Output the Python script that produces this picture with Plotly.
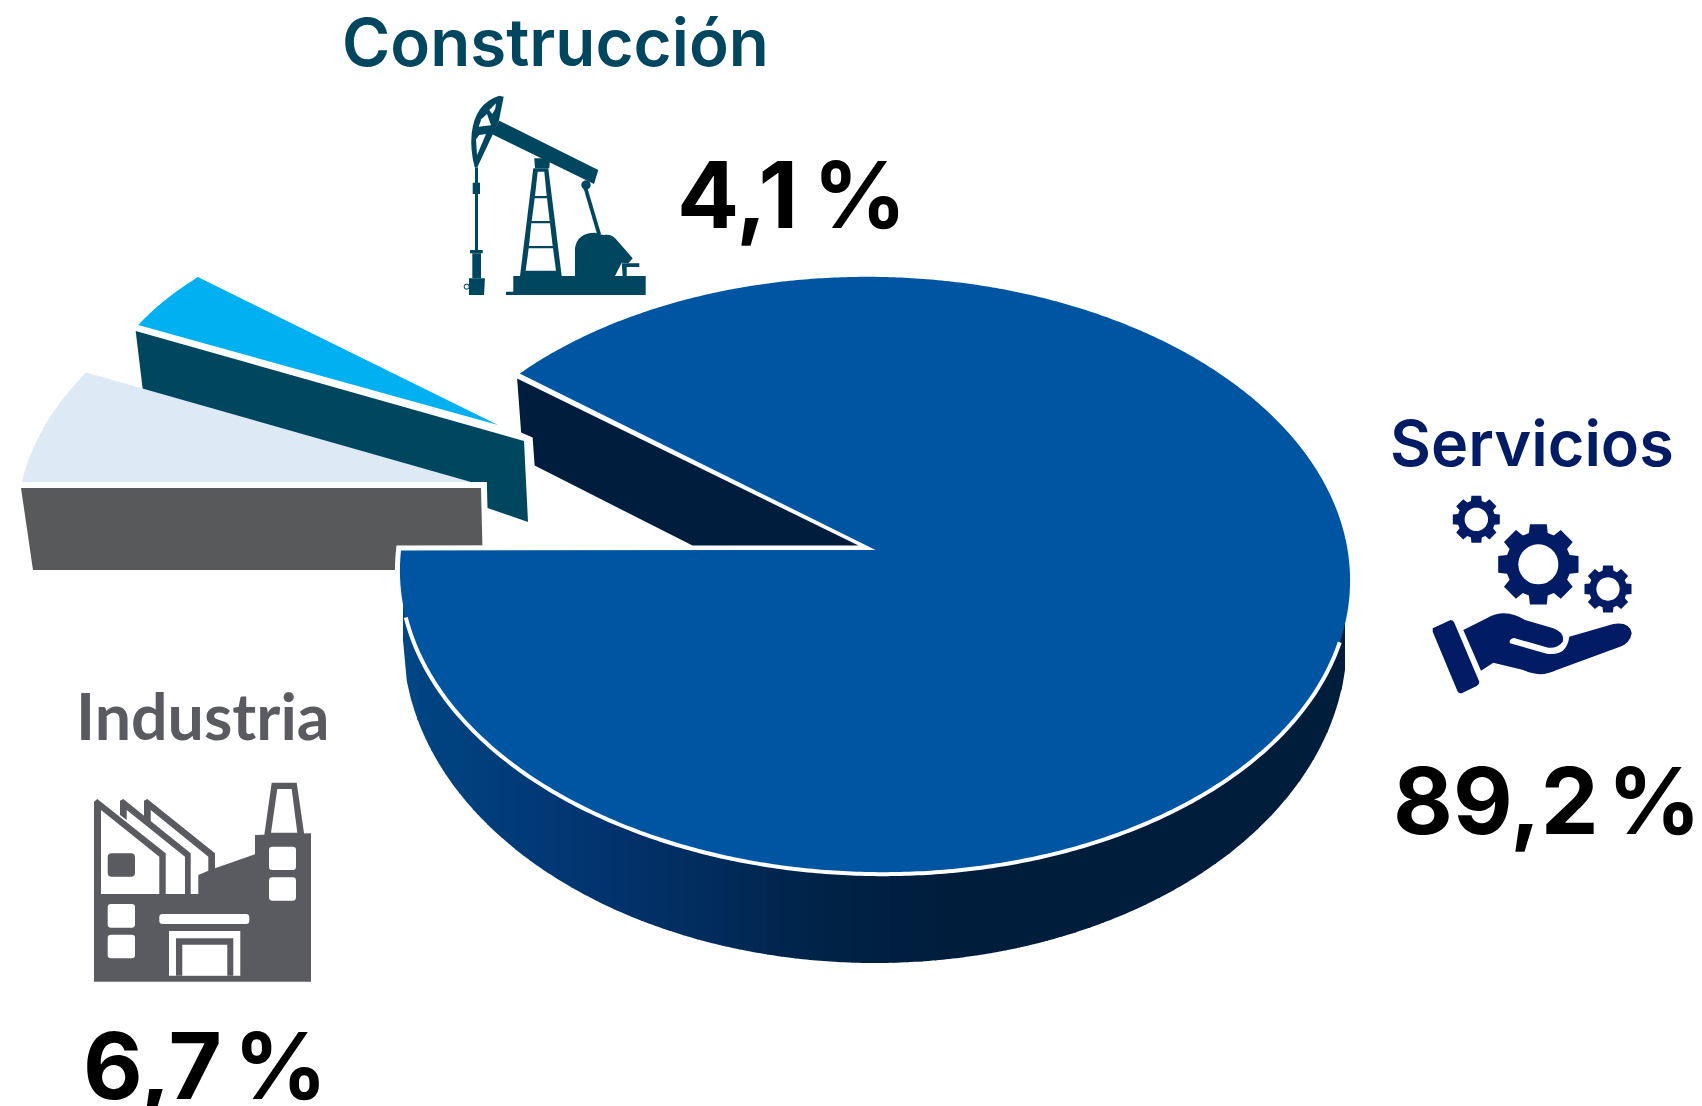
import math
import numpy as np
import plotly.graph_objects as go

categories = ["Servicios", "Industria", "Construcción"]
values = [89.2, 6.7, 4.1]
top_colors = ["#0055A2", "#DDE9F5", "#00B0F0"]
side_colors = ["#001D3D", "#58595B", "#00465F"]
text_colors = ["#011B64", "#595B60", "#00465F"]

W, H = 1702, 1106
fig = go.Figure()

SWEEP = [v / 100 * 360 for v in values]
CUT_START = 272.9                      # clockwise from 12 o'clock
FORESHORTEN = 0.97


def sector(center, m, a0, a1, n=90):
    """Map clock angles to the picture with a 2x2 oblique projection."""
    t = np.radians(np.linspace(a0, a1, n))
    s, c = np.sin(t), np.cos(t)
    return center[0] + m[0] * s + m[1] * c, center[1] + m[2] * s + m[3] * c


def poly(x, y, fill, line=None, lw=0):
    x, y = list(x), list(y)
    fig.add_trace(go.Scatter(x=x + x[:1], y=y + y[:1], mode="lines", fill="toself",
                             fillcolor=fill, hoverinfo="skip", showlegend=False,
                             line=dict(color=line or fill, width=lw if line else 0, simplify=False)))


# ---------- Construcción (exploded) ----------
con_c = (498, 425)
con_m = (405, 25, 9.8, -224)
con_a0 = 294.0
con_x, con_y = sector(con_c, con_m, con_a0, con_a0 + SWEEP[2], 30)
Ax, Ay = con_x[0], con_y[0]
poly([Ax - 2.5, Ax + 4.5, con_c[0] + 30, con_c[0] + 26],
     [Ay + 6, Ay + 64, con_c[1] + 97, con_c[1] + 16], side_colors[2])
poly(list(con_x) + [con_c[0]], list(con_y) + [con_c[1]], top_colors[2])

# ---------- Industria (exploded) ----------
ind_c = (471, 482)
ind_m = (449, 61, 0, -268)
ind_a0 = 270.0
ind_x, ind_y = sector(ind_c, ind_m, ind_a0, ind_a0 + SWEEP[1], 30)
Cx, Cy = ind_x[0], ind_y[0]
sx = [Cx - 1, ind_c[0] + 10, ind_c[0] + 12, Cx + 11]
sy = [Cy + 6, ind_c[1] + 6, ind_c[1] + 88, Cy + 88]
poly(sx, sy, "#FFFFFF", "#FFFFFF", 12)
poly(sx, sy, side_colors[1])
poly(list(ind_x) + [ind_c[0]], list(ind_y) + [ind_c[1]], top_colors[1])

# ---------- Servicios ----------
cx, cy = 875.0, 575.5
apex = (875.5, 550)
main_m = (475.0, 8.0, 10.0, -298.5)
cut = (360 - SWEEP[0]) * FORESHORTEN
mx, my = sector((cx, cy), main_m, CUT_START + cut, CUT_START + 360, 720)

# white halo separating the main body from what sits behind it
poly(list(mx) + [apex[0]], list(my) + [apex[1]], "#FFFFFF", "#FFFFFF", 10)

# inner cut face
Ux, Uy = mx[0], my[0]
poly([Ux - 2.5, Ux + 1.5, Ux + 13, Ux + 15, apex[0] - 183, apex[0] - 17],
     [Uy + 5, Uy + 59, Uy + 64, Uy + 92, apex[1] - 4.5, apex[1] - 4.5], side_colors[0])

# outer wall, shaded across its width
stops_x = [402, 444, 603, 826, 954, 1346]
stops_rgb = [(0, 70, 134), (0, 66, 128), (3, 52, 111), (0, 35, 71), (0, 29, 59), (0, 29, 59)]
bcx, bcy, brx, bry = 875.0, 640.0, 472.0, 323.0
edges = np.append(np.arange(403, 1345, 14.0), 1345.0)
arc_x, arc_y = sector((cx, cy), main_m, 270, 90, 400)
arc_x = np.maximum.accumulate(arc_x)


def top_y(x):
    return np.interp(x, arc_x, arc_y)


def bot_y(x):
    return bcy + bry * np.sqrt(np.clip(1 - ((x - bcx) / brx) ** 2, 0, 1))


for i in range(len(edges) - 1):
    xa, xb = edges[i], min(edges[i + 1] + 1.2, 1345.0)
    xs = np.linspace(xa, xb, 5)
    mid = (xa + edges[i + 1]) / 2
    rgb = [np.interp(mid, stops_x, [c[k] for c in stops_rgb]) for k in range(3)]
    col = "rgb(%d,%d,%d)" % tuple(rgb)
    ty = top_y(xs) - 2
    by = np.maximum(bot_y(xs), ty)
    poly(list(xs) + list(xs[::-1]), list(ty) + list(by[::-1]), col)

# top face
poly(list(mx) + [apex[0]], list(my) + [apex[1]], top_colors[0])

# white rim along the front of the top face
rim_x, rim_y = sector((cx, cy), main_m, 101, 260, 300)
fig.add_trace(go.Scatter(x=rim_x, y=rim_y, mode="lines",
                         line=dict(color="#FFFFFF", width=4, simplify=False),
                         hoverinfo="skip", showlegend=False))


# ---------- Texts ----------
def label(x, base, text, size, color, family="Inter", weight=600, yshift=0):
    fig.add_annotation(x=x, y=base, text=text, xref="x", yref="y", showarrow=False,
                       xanchor="left", yanchor="bottom", align="left", borderpad=0, borderwidth=0,
                       yshift=yshift, font=dict(family=family, size=size, color=color, weight=weight))


def pct(v, gap=62):
    return f"{v:.1f}".replace(".", ",") + f"<span style='font-size:{gap}px'> </span>%"


label(342, 82, categories[2], 65.5, text_colors[2])
label(1390, 481, categories[0], 63, text_colors[0])
label(76, 754, categories[1], 64.5, text_colors[1], family="Lato", weight=700)
label(677, 250, pct(values[2]), 92, "#000000", weight=650)
label(1393, 856, pct(values[0], 38), 92, "#000000", weight=650)
label(83, 1100, pct(values[1], 50), 92, "#000000", weight=650, yshift=-21)

# ---------- Icons ----------
shapes = []


def tr(ox, oy, k=3.0):
    return lambda x, y: (ox + x / k, oy + y / k)


def add_poly(pts, T, color):
    d = "M" + " L".join("%.1f,%.1f" % T(*p) for p in pts) + " Z"
    shapes.append(dict(type="path", path=d, fillcolor=color, line=dict(width=0), xref="x", yref="y"))


def add_path(cmds, T, color):
    out = []
    for c in cmds:
        op, pts = c[0], c[1:]
        out.append(op + " ".join("%.1f,%.1f" % T(*p) for p in pts))
    shapes.append(dict(type="path", path=" ".join(out) + " Z", fillcolor=color,
                       line=dict(width=0), xref="x", yref="y"))


def rrect(x0, y0, x1, y1, r, T, color):
    add_path([("M", (x0 + r, y0)), ("L", (x1 - r, y0)), ("Q", (x1, y0), (x1, y0 + r)),
              ("L", (x1, y1 - r)), ("Q", (x1, y1), (x1 - r, y1)), ("L", (x0 + r, y1)),
              ("Q", (x0, y1), (x0, y1 - r)), ("L", (x0, y0 + r)), ("Q", (x0, y0), (x0 + r, y0))], T, color)


def circle(x, y, r, T, color):
    t = np.linspace(0, 2 * np.pi, 40, endpoint=False)
    add_poly(list(zip(x + r * np.cos(t), y + r * np.sin(t))), T, color)


# pumpjack
P = tr(440, 80)
C = text_colors[2]
add_path([("M", (178, 47)), ("L", (191, 50)), ("L", (176, 125)), ("L", (112, 262)), ("L", (104, 262)),
          ("Q", (90, 210), (95, 160)), ("Q", (105, 70), (178, 47))], P, C)
add_poly([(178, 122), (475, 270), (462, 312), (155, 162)], P, C)
for h in ([(168, 70), (166, 86), (157, 102), (148, 90)],
          [(141, 102), (153, 136), (116, 140), (124, 118)],
          [(138, 162), (111, 226), (108, 178), (118, 165)]):
    add_poly(h, P, "#FFFFFF")
add_poly([(105, 262), (114, 262), (114, 510), (105, 510)], P, C)
add_poly([(98, 308), (120, 308), (120, 342), (98, 342)], P, C)
add_poly([(90, 510), (128, 510), (128, 520), (90, 520)], P, C)
add_poly([(97, 520), (123, 520), (123, 595), (97, 595)], P, C)
add_poly([(87, 595), (135, 595), (132, 645), (87, 645)], P, C)
circle(80, 620, 9, P, C)
circle(80, 620, 6, P, "#FFFFFF")
add_poly([(280, 265), (325, 265), (365, 588), (240, 588)], P, C)
for h in ([(293, 275), (313, 275), (320, 348), (285, 348)],
          [(284, 355), (321, 355), (329, 423), (275, 423)],
          [(274, 430), (330, 430), (338, 498), (267, 498)],
          [(266, 505), (339, 505), (348, 572), (257, 572)]):
    add_poly(h, P, "#FFFFFF")
add_poly([(283, 235), (330, 235), (328, 265), (285, 265)], P, C)
add_poly([(220, 588), (617, 588), (617, 645), (198, 645), (198, 635), (220, 635)], P, C)
add_poly([(430, 322), (441, 320), (483, 462), (472, 465)], P, C)
circle(438, 315, 14, P, C)
add_path([("M", (405, 588)), ("L", (405, 505)), ("Q", (412, 458), (465, 458)), ("L", (490, 465)),
          ("Q", (515, 460), (530, 480)), ("L", (578, 535)), ("L", (565, 550)), ("L", (545, 548)),
          ("L", (525, 588))], P, C)
add_poly([(545, 550), (598, 550), (598, 561), (560, 561), (560, 588), (548, 588)], P, C)

# gears and hand
G = tr(1410, 480)
C = text_colors[0]


def gear(x, y, outer, body, hole, T, color, teeth=8):
    pts = []
    for i in range(teeth):
        a = -math.pi / 2 + i * 2 * math.pi / teeth
        w = math.pi / teeth * 0.62
        for da, r in ((-w * 1.2, body), (-w * 0.85, outer), (w * 0.85, outer), (w * 1.2, body)):
            pts.append((x + r * math.cos(a + da), y + r * math.sin(a + da)))
    add_poly(pts, T, color)
    circle(x, y, hole, T, "#FFFFFF")


gear(199, 118, 72, 57, 35, G, C)
gear(385, 253, 123, 98, 60, G, C)
gear(594, 327, 72, 57, 35, G, C)
add_path([("M", (68, 445)), ("L", (122, 420)), ("Q", (130, 420), (133, 428)), ("L", (208, 605)),
          ("Q", (208, 615), (200, 618)), ("L", (155, 640)), ("Q", (145, 640), (142, 632)), ("L", (68, 455))], G, C)
add_path([("M", (160, 450)), ("L", (230, 415)), ("Q", (285, 382), (345, 420)), ("L", (430, 445)),
          ("Q", (465, 458), (458, 485)), ("Q", (445, 505), (415, 503)), ("L", (312, 474)),
          ("Q", (295, 478), (300, 490)), ("L", (410, 521)), ("Q", (470, 530), (478, 470)),
          ("L", (610, 432)), ("Q", (660, 425), (665, 460)), ("Q", (660, 490), (630, 500)),
          ("L", (440, 570)), ("Q", (390, 595), (340, 570)), ("L", (250, 548)), ("L", (213, 572))], G, C)

# factory
F = tr(70, 760)
C = text_colors[1]
add_poly([(222, 122), (232, 117), (435, 280), (435, 325), (555, 283), (555, 225), (723, 220), (723, 665),
          (72, 665), (72, 402), (385, 402), (385, 345), (415, 332), (415, 290), (242, 150), (242, 200), (222, 185)], F, C)
add_poly([(150, 122), (160, 117), (362, 280), (362, 402), (345, 402), (345, 290), (170, 150), (170, 180), (150, 165)], F, C)
add_poly([(72, 125), (82, 117), (287, 280), (287, 402), (268, 402), (268, 290), (93, 150), (93, 402), (72, 402)], F, C)
rrect(113, 280, 195, 350, 12, F, C)
add_poly([(605, 68), (680, 68), (703, 225), (583, 225)], F, C)
add_poly([(622, 87), (665, 87), (682, 218), (603, 218)], F, "#FFFFFF")
for b in ((113, 432, 195, 503), (113, 524, 195, 595), (597, 260, 678, 330), (597, 352, 678, 422)):
    rrect(*b, 10, F, "#FFFFFF")
rrect(268, 462, 538, 492, 10, F, "#FFFFFF")
add_poly([(297, 513), (511, 513), (511, 647), (297, 647)], F, "#FFFFFF")
add_poly([(318, 535), (490, 535), (490, 647), (318, 647)], F, C)
add_poly([(337, 554), (472, 554), (472, 647), (337, 647)], F, "#FFFFFF")

fig.update_layout(
    width=W, height=H, autosize=False, margin=dict(l=0, r=0, t=0, b=0),
    paper_bgcolor="#FFFFFF", plot_bgcolor="#FFFFFF", showlegend=False, shapes=shapes,
    xaxis=dict(range=[0, W], visible=False, fixedrange=True),
    yaxis=dict(range=[H, 0], visible=False, fixedrange=True),
)
fig.write_html("out.html", config={"displayModeBar": False, "staticPlot": True},
               post_script="document.body.style.margin='0';document.documentElement.style.overflow='hidden';")
